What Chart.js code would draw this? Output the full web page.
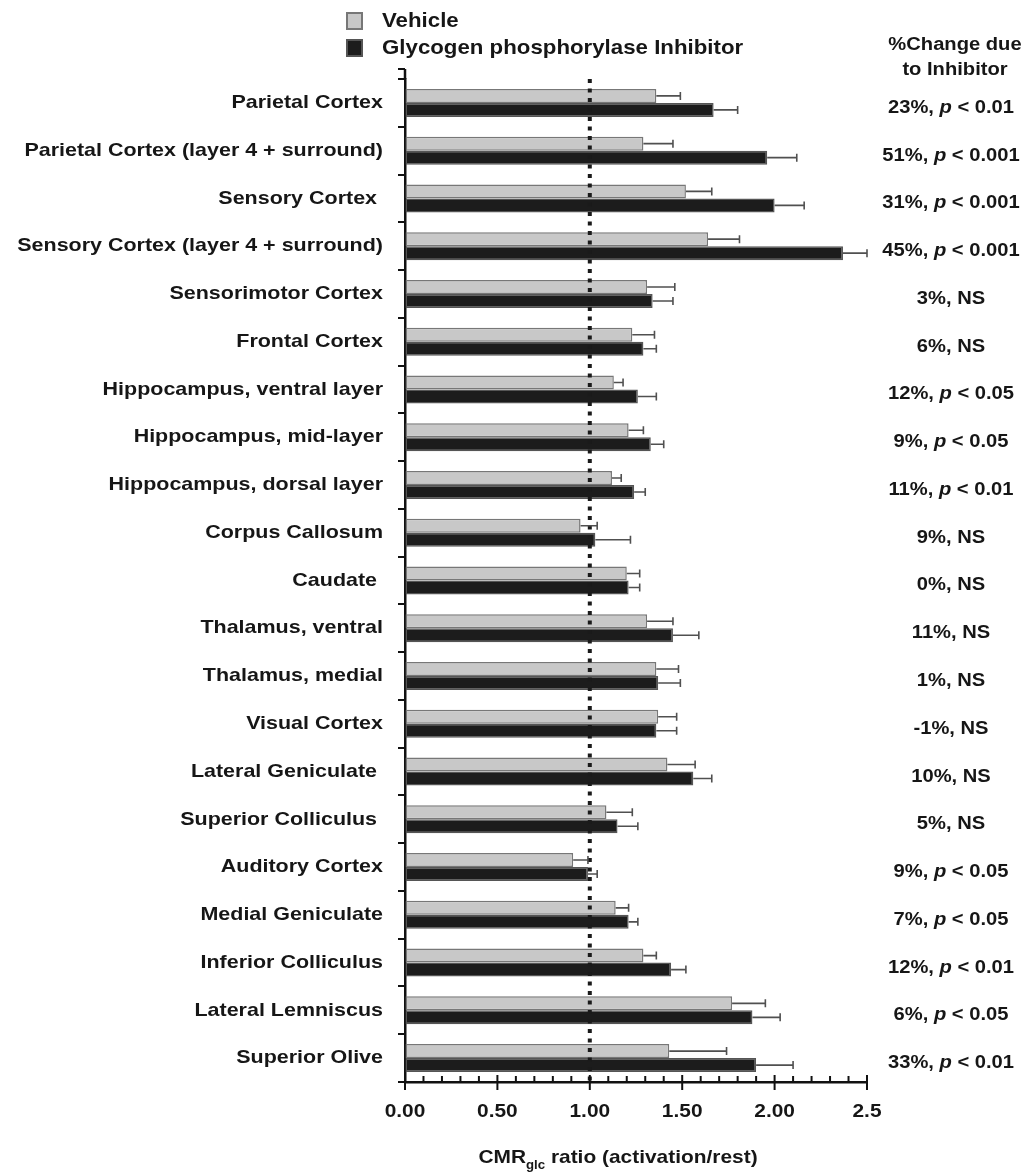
<!DOCTYPE html>
<html>
<head>
<meta charset="utf-8">
<script src="https://cdn.jsdelivr.net/npm/chart.js@4/dist/chart.umd.min.js"></script>
<style>
  html, body { margin: 0; padding: 0; background: #fff; }
  #wrap { width: 1029px; height: 1176px; position: relative; }
</style>
</head>
<body>
<div id="wrap"><canvas id="myChart"></canvas></div>
<script>
// brain regions, top to bottom
const regions = [
  'Parietal Cortex', 'Parietal Cortex (layer 4 + surround)', 'Sensory Cortex ',
  'Sensory Cortex (layer 4 + surround)', 'Sensorimotor Cortex', 'Frontal Cortex',
  'Hippocampus, ventral layer', 'Hippocampus, mid-layer', 'Hippocampus, dorsal layer',
  'Corpus Callosum', 'Caudate ', 'Thalamus, ventral', 'Thalamus, medial', 'Visual Cortex',
  'Lateral Geniculate ', 'Superior Colliculus ', 'Auditory Cortex', 'Medial Geniculate',
  'Inferior Colliculus', 'Lateral Lemniscus', 'Superior Olive'
];
const seriesNames = ['Vehicle', 'Glycogen phosphorylase Inhibitor'];

const vehicle      = [1.36, 1.29, 1.52, 1.64, 1.31, 1.23, 1.13, 1.21, 1.12, 0.95, 1.20, 1.31, 1.36, 1.37, 1.42, 1.09, 0.91, 1.14, 1.29, 1.77, 1.43];
const vehicleErr   = [0.13, 0.16, 0.14, 0.17, 0.15, 0.12, 0.05, 0.08, 0.05, 0.09, 0.07, 0.14, 0.12, 0.10, 0.15, 0.14, 0.08, 0.07, 0.07, 0.18, 0.31];
const inhibitor    = [1.67, 1.96, 2.00, 2.37, 1.34, 1.29, 1.26, 1.33, 1.24, 1.03, 1.21, 1.45, 1.37, 1.36, 1.56, 1.15, 0.99, 1.21, 1.44, 1.88, 1.90];
const inhibitorErr = [0.13, 0.16, 0.16, 0.13, 0.11, 0.07, 0.10, 0.07, 0.06, 0.19, 0.06, 0.14, 0.12, 0.11, 0.10, 0.11, 0.05, 0.05, 0.08, 0.15, 0.20];

// right-hand column
const changeText = ['23%', '51%', '31%', '45%', '3%', '6%', '12%', '9%', '11%', '9%', '0%', '11%', '1%', '-1%', '10%', '5%', '9%', '7%', '12%', '6%', '33%'];
const sigText = ['< 0.01', '< 0.001', '< 0.001', '< 0.001', 'NS', 'NS', '< 0.05', '< 0.05', '< 0.01', 'NS', 'NS',
                 'NS', 'NS', 'NS', 'NS', 'NS', '< 0.05', '< 0.05', '< 0.01', '< 0.05', '< 0.01'];

const tickValues = [0, 0.5, 1, 1.5, 2, 2.5];
const tickLabels = ['0.00', '0.50', '1.00', '1.50', '2.00', '2.5'];

const FONT = '"Liberation Sans", Arial, Helvetica, sans-serif';

// text drawn a bit wider than Arial, like the original typeface
function drawText(ctx, parts, x, y, align, size, sx) {
  ctx.save();
  let total = 0;
  parts.forEach(p => {
    ctx.font = (p.italic ? 'italic ' : '') + 'bold ' + (p.size || size) + 'px ' + FONT;
    total += ctx.measureText(p.t).width;
  });
  let cx = align === 'right' ? -total : (align === 'center' ? -total / 2 : 0);
  ctx.translate(x, y);
  ctx.scale(sx, 1);
  ctx.textAlign = 'left';
  ctx.textBaseline = 'middle';
  ctx.fillStyle = '#161616';
  parts.forEach(p => {
    ctx.font = (p.italic ? 'italic ' : '') + 'bold ' + (p.size || size) + 'px ' + FONT;
    ctx.fillText(p.t, cx, p.dy || 0);
    cx += ctx.measureText(p.t).width;
  });
  ctx.restore();
}

const decor = {
  id: 'decor',
  afterDatasetsDraw(chart) {
    const { ctx, chartArea: a, scales: { x } } = chart;

    // dotted line at ratio 1.0
    ctx.save();
    ctx.strokeStyle = '#1a1a1a';
    ctx.lineWidth = 4;
    ctx.setLineDash([4, 5.5]);
    const rx = x.getPixelForValue(1);
    ctx.beginPath();
    ctx.moveTo(rx, a.top);
    ctx.lineTo(rx, a.bottom);
    ctx.stroke();
    ctx.restore();

    // one-sided error bars
    const errs = [vehicleErr, inhibitorErr];
    ctx.save();
    ctx.strokeStyle = '#505050';
    ctx.lineWidth = 1.6;
    chart.data.datasets.forEach((ds, di) => {
      chart.getDatasetMeta(di).data.forEach((bar, i) => {
        const x1 = x.getPixelForValue(ds.data[i] + errs[di][i]);
        ctx.beginPath();
        ctx.moveTo(bar.x, bar.y);
        ctx.lineTo(x1, bar.y);
        ctx.moveTo(x1, bar.y - 4);
        ctx.lineTo(x1, bar.y + 4);
        ctx.stroke();
      });
    });
    ctx.restore();
  },
  afterDraw(chart) {
    const { ctx, chartArea: a, scales: { x, y } } = chart;

    // x ticks: majors cross the axis, minors inside
    ctx.save();
    ctx.strokeStyle = '#111';
    ctx.lineWidth = 2;
    for (let k = 0; k <= 25; k++) {
      const px = x.getPixelForValue(k / 10);
      ctx.beginPath();
      if (k % 5 === 0) {
        ctx.moveTo(px, a.bottom - 7);
        ctx.lineTo(px, a.bottom + 8);
      } else {
        ctx.moveTo(px, a.bottom - 6);
        ctx.lineTo(px, a.bottom);
      }
      ctx.stroke();
    }
    // y axis runs a little above the first category
    ctx.lineWidth = 2.5;
    ctx.beginPath();
    ctx.moveTo(a.left, a.top);
    ctx.lineTo(a.left, a.top - 10);
    ctx.stroke();
    ctx.lineWidth = 2;
    ctx.beginPath();
    ctx.moveTo(a.left, a.top - 10);
    ctx.lineTo(a.left - 7, a.top - 10);
    ctx.stroke();
    ctx.restore();

    // category labels
    regions.forEach((r, i) => {
      drawText(ctx, [{ t: r }], 383, y.getPixelForValue(i), 'right', 19, 1.13);
    });

    // x tick labels
    tickValues.forEach((v, i) => {
      drawText(ctx, [{ t: tickLabels[i] }], x.getPixelForValue(v), 1112, 'center', 19, 1.1);
    });

    // x title with subscript
    drawText(ctx, [
      { t: 'CMR' },
      { t: 'glc', size: 12, dy: 8 },
      { t: ' ratio (activation/rest)' }
    ], 618, 1158, 'center', 19, 1.1);

    // right-hand column
    drawText(ctx, [{ t: '%Change due' }], 955, 45, 'center', 18, 1.12);
    drawText(ctx, [{ t: 'to Inhibitor' }], 955, 70, 'center', 18, 1.12);
    changeText.forEach((c, i) => {
      const parts = sigText[i] === 'NS'
        ? [{ t: c + ', NS' }]
        : [{ t: c + ', ' }, { t: 'p', italic: true }, { t: ' ' + sigText[i] }];
      drawText(ctx, parts, 951, y.getPixelForValue(i) + 5, 'center', 18, 1.12);
    });

    // legend
    const ds = chart.data.datasets;
    [21, 48].forEach((ly, i) => {
      ctx.save();
      ctx.fillStyle = ds[i].backgroundColor;
      ctx.strokeStyle = ds[i].borderColor;
      ctx.lineWidth = 2;
      ctx.fillRect(346, ly - 9, 17, 18);
      ctx.strokeRect(347, ly - 8, 15, 16);
      ctx.restore();
      drawText(ctx, [{ t: seriesNames[i] }], 382, ly, 'left', 21, 1.06);
    });
  }
};

const config = {
  type: 'bar',
  data: {
    labels: regions,
    datasets: [
      { label: seriesNames[0], data: vehicle, backgroundColor: '#c8c8c8', borderColor: '#777777', borderWidth: 1.5, borderSkipped: false },
      { label: seriesNames[1], data: inhibitor, backgroundColor: '#1c1c1c', borderColor: '#555555', borderWidth: 1.5, borderSkipped: false }
    ]
  },
  options: {
    indexAxis: 'y',
    responsive: true,
    maintainAspectRatio: false,
    animation: false,
    layout: { padding: { top: 79, right: 162, bottom: 0, left: 0 } },
    datasets: { bar: { categoryPercentage: 0.586, barPercentage: 1 } },
    plugins: { legend: { display: false }, tooltip: { enabled: false } },
    scales: {
      x: {
        min: 0, max: 2.5,
        ticks: { display: false, stepSize: 0.5 },
        grid: { display: true, drawOnChartArea: false, drawTicks: false },
        border: { display: true, color: '#111', width: 2.5 },
        afterFit: (s) => { s.height = 94; }
      },
      y: {
        ticks: { display: false },
        grid: { display: true, drawOnChartArea: false, drawTicks: true, tickLength: 7, color: '#111', lineWidth: 2, offset: true },
        border: { display: true, color: '#111', width: 2.5 },
        afterFit: (s) => { s.width = 405; }
      }
    }
  },
  plugins: [decor]
};

const myChart = new Chart(document.getElementById('myChart'), config);
</script>
</body>
</html>
